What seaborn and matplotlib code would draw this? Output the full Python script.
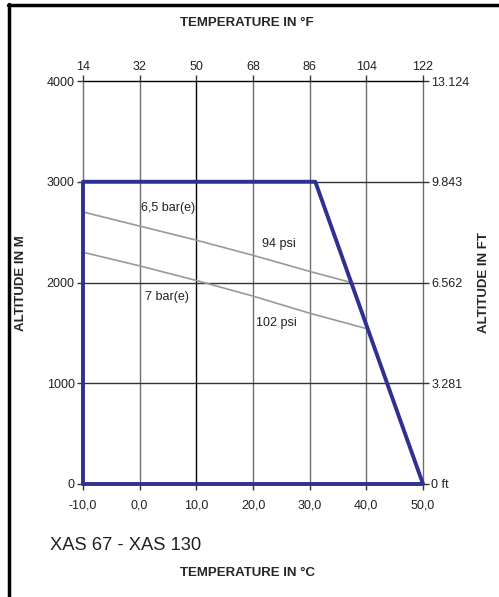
import matplotlib; matplotlib.use("Agg")
import matplotlib.pyplot as plt
import seaborn as sns
import pandas as pd
from matplotlib.lines import Line2D

# ── data ─────────────────────────────────────────────────────────────────────
temp_c_ticks   = [-10, 0, 10, 20, 30, 40, 50]
temp_f_labels  = ["14", "32", "50", "68", "86", "104", "122"]
alt_m_ticks    = [0, 1000, 2000, 3000, 4000]
alt_ft_labels  = ["0 ft", "3.281", "6.562", "9.843", "13.124"]

envelope_t     = [-10, -10, 31, 50, -10]
envelope_alt   = [0, 3000, 3000, 0, 0]

bar65_t        = [-10, 0, 10, 20, 30, 37.3]
bar65_alt      = [2700, 2560, 2420, 2270, 2110, 2000]
bar7_t         = [-10, 0, 10, 20, 30, 40.2]
bar7_alt       = [2300, 2165, 2020, 1865, 1695, 1540]

BLUE = "#2e3192"
GREY = "#999999"

sns.set_theme(style="white")
plt.rcParams["font.family"] = ["Liberation Sans", "DejaVu Sans"]

fig = plt.figure(figsize=(4.99, 5.97), dpi=100)
ax = fig.add_axes([83/499, 1 - 484/597, 340/499, 403/597])

# grid
for t in temp_c_ticks:
    ax.axvline(t, color="#000000" if t == 10 else "#6e6e6e", lw=1.0, zorder=1,
               clip_on=False)
for a in alt_m_ticks[1:]:
    ax.axhline(a, color="#333333" if a < 4000 else "#000000", lw=1.0, zorder=1,
               clip_on=False)

df65 = pd.DataFrame({"t": bar65_t, "alt": bar65_alt})
df7  = pd.DataFrame({"t": bar7_t,  "alt": bar7_alt})
env  = pd.DataFrame({"t": envelope_t, "alt": envelope_alt})
line_kw = dict(x="t", y="alt", sort=False, estimator=None, ax=ax)
sns.lineplot(data=df65, color=GREY, lw=1.2, zorder=2, **line_kw)
sns.lineplot(data=df7,  color=GREY, lw=1.2, zorder=2, **line_kw)
sns.lineplot(data=env,  color=BLUE, lw=2.8, zorder=3, clip_on=False, **line_kw)

ax.text(0.3, 2740, "6,5 bar(e)", fontsize=9, va="center", color="#222222")
ax.text(21.5, 2380, "94 psi", fontsize=9, va="center", color="#222222")
ax.text(1.0, 1860, "7 bar(e)", fontsize=9, va="center", color="#222222")
ax.text(20.5, 1600, "102 psi", fontsize=9, va="center", color="#222222")

ax.set_xlim(-10, 50); ax.set_ylim(0, 4000)
for s in ax.spines.values():
    s.set_visible(False)
ax.set_xlabel(""); ax.set_ylabel("")

tick_kw = dict(labelsize=9, length=4, width=1, color="#333333", labelcolor="#222222")
ax.set_xticks(temp_c_ticks)
ax.set_xticklabels([f"{t:.1f}".replace(".", ",") for t in temp_c_ticks])
ax.set_yticks(alt_m_ticks)
ax.set_yticklabels([str(a) for a in alt_m_ticks])
ax.tick_params(axis="x", direction="out", bottom=False, pad=7, **tick_kw)
ax.tick_params(axis="y", direction="out", left=True, pad=2, **tick_kw)

top = ax.twiny()
top.set_xlim(ax.get_xlim())
top.set_xticks(temp_c_ticks); top.set_xticklabels(temp_f_labels)
top.tick_params(axis="x", direction="out", top=True, pad=2, **tick_kw)
for s in top.spines.values():
    s.set_visible(False)

right = ax.twinx()
right.set_ylim(ax.get_ylim())
right.set_yticks(alt_m_ticks); right.set_yticklabels(alt_ft_labels)
right.tick_params(axis="y", direction="out", right=True, pad=2, **tick_kw)
for s in right.spines.values():
    s.set_visible(False)
right.grid(False); top.grid(False); ax.grid(False)

# titles
fig.text(247/499, 1 - 23/597, "TEMPERATURE IN °F", ha="center", va="center",
         fontsize=9.5, fontweight="bold")
fig.text(247/499, 1 - 573/597, "TEMPERATURE IN °C", ha="center", va="center",
         fontsize=9.5, fontweight="bold")
fig.text(21/499, 1 - 283/597, "ALTITUDE IN M", ha="center", va="center",
         rotation=90, fontsize=9.5, fontweight="bold")
fig.text(484/499, 1 - 283/597, "ALTITUDE IN FT", ha="center", va="center",
         rotation=90, fontsize=9.5, fontweight="bold")
fig.text(50/499, 1 - 545/597, "XAS 67 - XAS 130", ha="left", va="center",
         fontsize=13.2, color="#222222")

# frame (left and top only)
fig.add_artist(Line2D([9/499, 9/499], [0, 1 - 4/597], color="black", lw=2.5,
                      transform=fig.transFigure))
fig.add_artist(Line2D([8/499, 1], [1 - 4.5/597, 1 - 4.5/597], color="black", lw=2.5,
                      transform=fig.transFigure))

fig.savefig("out.png", dpi=100)
